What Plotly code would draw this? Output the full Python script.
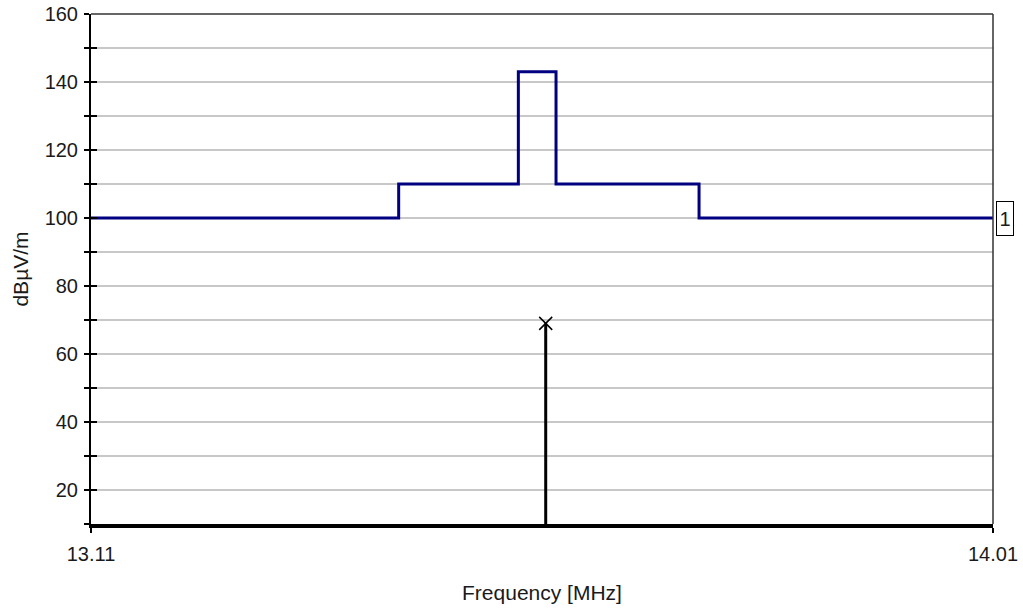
import plotly.graph_objects as go

# Emission limit mask (dBµV/m) as a stepped line over frequency (MHz)
mask_freq = [13.11, 13.417, 13.5364, 13.574, 13.7167, 14.01]
mask_level = [100, 110, 143, 110, 100, 100]

# Measured carrier
carrier_freq = [13.5637]
carrier_level = [69]

# Axis settings
x_range = [13.11, 14.01]
x_tick_labels = ["13.11", "14.01"]
y_range = [10, 160]
y_tick_vals = list(range(10, 161, 10))
y_tick_text = [str(v) if v % 20 == 0 else "" for v in y_tick_vals]

FONT = "Liberation Sans, Arial, sans-serif"
TXT = "#1a1a1a"

fig = go.Figure()

fig.add_trace(go.Scatter(
    x=mask_freq, y=mask_level, mode="lines", line_shape="hv",
    line=dict(color="#000080", width=3), hoverinfo="skip", showlegend=False,
))

# Carrier drawn as a stem from the bottom of the axis up to its level
fig.add_trace(go.Scatter(
    x=[carrier_freq[0], carrier_freq[0]], y=[y_range[0], carrier_level[0]],
    mode="lines", line=dict(color="black", width=3), showlegend=False,
))
fig.add_trace(go.Scatter(
    x=carrier_freq, y=carrier_level, mode="markers",
    marker=dict(symbol="x-thin", size=13, line=dict(color="black", width=1.5)),
    showlegend=False,
))

# Invisible trace carrying the inner-tick axis
fig.add_trace(go.Scatter(
    x=[x_range[0]], y=[y_range[0]], yaxis="y2", mode="markers",
    marker=dict(opacity=0), showlegend=False, hoverinfo="skip",
))

fig.update_layout(
    width=1023, height=609,
    margin=dict(l=91, r=30, t=14, b=85),
    paper_bgcolor="white", plot_bgcolor="white",
    font=dict(family=FONT, size=20, color=TXT),
    xaxis=dict(
        range=x_range, tickvals=x_range, ticktext=x_tick_labels,
        showgrid=False, zeroline=False, automargin=False,
        showline=True, linecolor="black", linewidth=4,
        ticks="outside", ticklen=5, tickwidth=2, tickcolor="black",
        ticklabelstandoff=4,
        title=dict(text="Frequency [MHz]", font=dict(size=21), standoff=22),
    ),
    yaxis=dict(
        range=y_range, tickvals=y_tick_vals, ticktext=y_tick_text,
        showgrid=True, gridcolor="#c8c8c8", gridwidth=1.5, zeroline=False,
        automargin=False,
        showline=True, linecolor="black", linewidth=2,
        ticks="outside", ticklen=5, tickwidth=2, tickcolor="black",
        ticklabelstandoff=2,
        title=dict(text="dBµV/m", font=dict(size=21), standoff=10),
    ),
    yaxis2=dict(
        overlaying="y", side="left", matches="y", range=y_range,
        tickvals=y_tick_vals, showticklabels=False, showgrid=False,
        zeroline=False, showline=False, automargin=False,
        ticks="inside", ticklen=6, tickwidth=2, tickcolor="black",
    ),
    shapes=[
        # Frame along the top and right of the plotting area
        dict(type="line", xref="paper", yref="paper", x0=0, x1=1, y0=1, y1=1,
             line=dict(color="#333333", width=1.5), layer="above"),
        dict(type="line", xref="paper", yref="paper", x0=1, x1=1, y0=0, y1=1,
             line=dict(color="#333333", width=1.5), layer="above"),
    ],
    annotations=[
        dict(text="1", xref="paper", yref="y", x=1, y=mask_level[-1],
             xanchor="left", yanchor="middle", xshift=3, showarrow=False,
             width=14, height=31, align="center", valign="middle",
             font=dict(size=20, color=TXT), bordercolor="black", borderwidth=1,
             borderpad=1, bgcolor="white"),
    ],
)

fig.write_html("out.html")
